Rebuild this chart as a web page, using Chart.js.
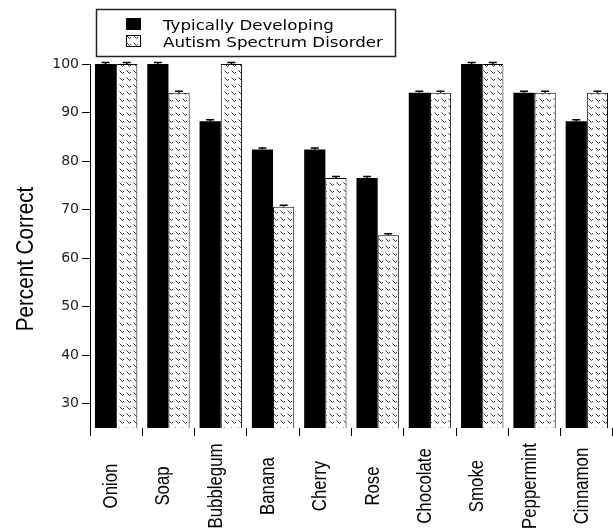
<!DOCTYPE html>
<html><head><meta charset="utf-8">
<script src="https://cdn.jsdelivr.net/npm/chart.js@4/dist/chart.umd.min.js"></script>
<style>html,body{margin:0;padding:0;background:#fff}#wrap{width:613px;height:531px;position:relative}</style>
</head><body><div id="wrap"><canvas id="c" width="613" height="531"></canvas></div>
<script>
const categories = ['Onion','Soap','Bubblegum','Banana','Cherry','Rose','Chocolate','Smoke','Peppermint','Cinnamon'];
const seriesNames = ['Typically Developing','Autism Spectrum Disorder'];
const tdValues  = [100, 100, 88.2, 82.4, 82.4, 76.5, 94.1, 100, 94.1, 88.2];
const asdValues = [100, 94.1, 100, 70.6, 76.5, 64.7, 94.1, 100, 94.1, 94.1];
const tdErrors  = [0.3, 0.3, 0.3, 0.3, 0.3, 0.3, 0.3, 0.3, 0.3, 0.3];
const asdErrors = [0.3, 0.3, 0.3, 0.3, 0.3, 0.3, 0.3, 0.3, 0.3, 0.3];
const yTicks = [30, 40, 50, 60, 70, 80, 90, 100];
const yTitle = 'Percent Correct';

function makeHatch(){
  const t = document.createElement('canvas'); t.width = 7; t.height = 7;
  const g = t.getContext('2d');
  g.fillStyle = '#fff'; g.fillRect(0,0,7,7);
  g.strokeStyle = '#333'; g.lineWidth = 1;
  g.beginPath(); g.moveTo(0.5,0.5); g.lineTo(3.5,3.5); g.stroke();
  g.beginPath(); g.moveTo(3.5,3.5); g.lineTo(5,2); g.stroke();
  return g.createPattern(t, 'repeat');
}
const hatch = makeHatch();
const errorSets = [tdErrors, asdErrors];

const SANS = '"Liberation Sans", Arial, sans-serif';

const errorBars = {
  id: 'errorBars',
  afterDatasetsDraw(chart){
    const ctx = chart.ctx, ys = chart.scales.y;
    ctx.save();
    ctx.strokeStyle = '#000'; ctx.lineWidth = 1.5;
    chart.data.datasets.forEach((ds, di) => {
      const meta = chart.getDatasetMeta(di);
      meta.data.forEach((bar, i) => {
        const v = ds.data[i], e = errorSets[di][i];
        const yt = ys.getPixelForValue(v + e);
        ctx.beginPath();
        ctx.moveTo(bar.x, bar.y); ctx.lineTo(bar.x, yt);
        ctx.moveTo(bar.x - 4, yt); ctx.lineTo(bar.x + 4, yt);
        ctx.stroke();
      });
    });
    ctx.restore();
  }
};

const textLabels = {
  id: 'textLabels',
  afterDraw(chart){
    const ctx = chart.ctx, xs = chart.scales.x;
    ctx.save();
    ctx.fillStyle = '#000';
    // category labels, rotated, condensed
    ctx.font = '21px ' + SANS;
    ctx.textAlign = 'center'; ctx.textBaseline = 'alphabetic';
    categories.forEach((c, i) => {
      const x = xs.getPixelForValue(i) + 1;
      ctx.save();
      ctx.translate(x, 486);
      ctx.rotate(-Math.PI/2);
      ctx.scale(0.8, 1);
      ctx.fillText(c, 0, 0);
      ctx.restore();
    });
    // y axis title
    ctx.font = '24px ' + SANS;
    ctx.save();
    ctx.translate(33, 259);
    ctx.rotate(-Math.PI/2);
    ctx.scale(0.86, 1);
    ctx.fillText(yTitle, 0, 0);
    ctx.restore();
    ctx.restore();
  }
};

const boxLegend = {
  id: 'boxLegend',
  afterDraw(chart){
    const ctx = chart.ctx;
    ctx.save();
    ctx.strokeStyle = '#222'; ctx.lineWidth = 1.5;
    ctx.strokeRect(96.5, 9.5, 299, 47);
    ctx.fillStyle = '#000';
    ctx.fillRect(126, 18, 15, 12);
    ctx.fillStyle = hatch;
    ctx.fillRect(126, 35, 15, 12);
    ctx.strokeStyle = '#000'; ctx.lineWidth = 1;
    ctx.strokeRect(126.5, 35.5, 14, 11);
    ctx.fillStyle = '#000';
    ctx.font = '14px "DejaVu Sans", Verdana, sans-serif';
    ctx.textBaseline = 'alphabetic'; ctx.textAlign = 'left';
    [30, 46.5].forEach((by, k) => {
      ctx.save();
      ctx.translate(163, by);
      ctx.scale(1.19, 1);
      ctx.fillText(seriesNames[k], 0, 0);
      ctx.restore();
    });
    ctx.restore();
  }
};

new Chart(document.getElementById('c'), {
  type: 'bar',
  data: {
    labels: categories,
    datasets: [
      { label: seriesNames[0], data: tdValues, backgroundColor: '#000', borderWidth: 0,
        categoryPercentage: 0.81, barPercentage: 1 },
      { label: seriesNames[1], data: asdValues, backgroundColor: hatch, borderColor: '#000', borderWidth: 1,
        categoryPercentage: 0.81, barPercentage: 1 }
    ]
  },
  options: {
    responsive: false,
    animation: false,
    devicePixelRatio: 1,
    layout: { padding: { top: 64, right: 0, bottom: 0, left: 0 } },
    plugins: { legend: { display: false }, tooltip: { enabled: false } },
    scales: {
      x: {
        offset: true,
        grid: { display: true, drawOnChartArea: false, drawTicks: true, tickLength: 8, color: '#000', lineWidth: 1, offset: true },
        border: { display: false },
        ticks: { display: false },
        afterFit(s){ s.height = 103; }
      },
      y: {
        min: 25, max: 100,
        afterBuildTicks(s){ s.ticks = yTicks.map(v => ({ value: v })); },
        grid: { drawOnChartArea: false, drawTicks: true, tickLength: 8, color: '#000', lineWidth: 1 },
        border: { display: true, color: '#000', width: 1 },
        ticks: { color: '#222', padding: 3, font: { family: '"DejaVu Sans", Verdana, sans-serif', size: 14 } },
        title: { display: false },
        afterFit(s){ s.width = 90; }
      }
    }
  },
  plugins: [errorBars, textLabels, boxLegend]
});
</script>
</body></html>
